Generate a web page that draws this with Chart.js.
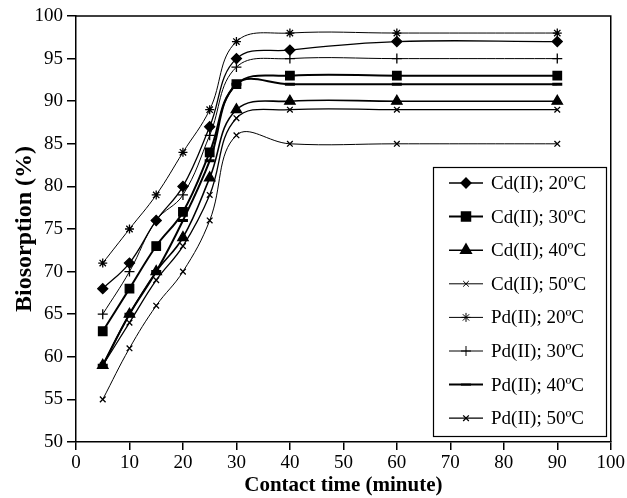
<!DOCTYPE html>
<html>
<head>
<meta charset="utf-8">
<script src="https://cdn.jsdelivr.net/npm/chart.js@4/dist/chart.umd.min.js"></script>
<style>
  html, body { margin: 0; padding: 0; background: #fff; }
  #wrap { width: 627px; height: 498px; position: relative; }
</style>
</head>
<body>
<div id="wrap"><canvas id="c" width="627" height="498"></canvas></div>
<script>
// ---- data ----
const contactTime = [5, 10, 15, 20, 25, 30, 40, 60, 90];
const cd20 = [68, 71, 76, 80, 87, 95, 96, 97, 97];
const cd30 = [63, 68, 73, 77, 84, 92, 93, 93, 93];
const cd40 = [59, 65, 70, 74, 81, 89, 90, 90, 90];
const cd50 = [55, 61, 66, 70, 76, 86, 85, 85, 85];
const pd20 = [71, 75, 79, 84, 89, 97, 98, 98, 98];
const pd30 = [65, 70, 76, 79, 86, 94, 95, 95, 95];
const pd40 = [59, 65, 70, 76, 83, 92, 92, 92, 92];
const pd50 = [59, 64, 69, 73, 79, 88, 89, 89, 89];
const seriesLabels = ['Cd(II); 20ºC', 'Cd(II); 30ºC', 'Cd(II); 40ºC', 'Cd(II); 50ºC',
                      'Pd(II); 20ºC', 'Pd(II); 30ºC', 'Pd(II); 40ºC', 'Pd(II); 50ºC'];
const xTitle = 'Contact time (minute)';
const yTitle = 'Biosorption (%)';

const seriesValues = [cd20, cd30, cd40, cd50, pd20, pd30, pd40, pd50];
const styles = [
  { pointStyle: 'rectRot', r: 5, w: 1.3 },
  { pointStyle: 'rect', r: 6, w: 2 },
  { pointStyle: 'triangle', r: 6, w: 1.6 },
  { pointStyle: 'crossRot', r: 4, w: 1 },
  { pointStyle: 'star', r: 4.5, w: 1 },
  { pointStyle: 'cross', r: 5, w: 1 },
  { pointStyle: 'line', r: 5, w: 2 },
  { pointStyle: 'crossRot', r: 4, w: 1.3 }
];

const datasets = seriesValues.map((vals, i) => ({
  label: seriesLabels[i],
  data: contactTime.map((t, j) => ({ x: t, y: vals[j] })),
  borderColor: '#000',
  backgroundColor: '#000',
  borderWidth: styles[i].w,
  pointStyle: styles[i].pointStyle,
  pointRadius: styles[i].r,
  pointBorderWidth: (styles[i].pointStyle === 'line') ? 3 : 1.3,
  pointBackgroundColor: '#000',
  pointBorderColor: '#000',
  tension: 0.4,
  fill: false
}));

const FONT = '"Liberation Serif", "Times New Roman", serif';

const boxAndLegend = {
  id: 'boxAndLegend',
  afterDraw(chart) {
    const ctx = chart.ctx;
    const a = chart.chartArea;
    ctx.save();
    ctx.strokeStyle = '#000';
    ctx.lineWidth = 1.5;
    ctx.beginPath();
    ctx.moveTo(a.left, a.top);
    ctx.lineTo(a.right, a.top);
    ctx.lineTo(a.right, a.bottom);
    ctx.stroke();

    // legend box
    const lx = 433, ly = 167, lw = 173, lh = 269;
    ctx.fillStyle = '#fff';
    ctx.fillRect(lx, ly, lw, lh);
    ctx.lineWidth = 1.2;
    ctx.strokeRect(lx + 0.5, ly + 0.5, lw, lh);
    ctx.font = '19px ' + FONT;
    ctx.textBaseline = 'middle';
    ctx.textAlign = 'left';
    chart.data.datasets.forEach((ds, i) => {
      const y = 183 + i * 33.6;
      ctx.strokeStyle = '#000';
      ctx.lineWidth = Math.max(1, ds.borderWidth);
      ctx.beginPath();
      ctx.moveTo(449, y);
      ctx.lineTo(483, y);
      ctx.stroke();
      ctx.fillStyle = '#000';
      if (Chart.helpers && Chart.helpers.drawPoint) {
        Chart.helpers.drawPoint(ctx, {
          pointStyle: ds.pointStyle,
          radius: ds.pointRadius,
          rotation: 0,
          borderWidth: ds.pointBorderWidth
        }, 466, y);
      }
      ctx.fillStyle = '#000';
      ctx.fillText(ds.label, 491, y + 1);
    });
    ctx.restore();
  }
};

new Chart(document.getElementById('c'), {
  type: 'line',
  data: { datasets },
  options: {
    responsive: false,
    animation: false,
    devicePixelRatio: 1,
    layout: { padding: { left: 10, right: 16, top: 16, bottom: 0 } },
    plugins: { legend: { display: false }, tooltip: { enabled: false } },
    scales: {
      x: {
        type: 'linear',
        min: 0, max: 100,
        ticks: { stepSize: 10, color: '#000', font: { family: FONT, size: 19 }, padding: 2, maxRotation: 0 },
        grid: { drawOnChartArea: false, drawTicks: true, tickLength: 8, color: '#000', lineWidth: 1.5 },
        border: { color: '#000', width: 1.5 },
        title: { display: true, text: xTitle, color: '#000', font: { family: FONT, size: 21, weight: 'bold' }, padding: { top: 6, bottom: 0 } },
        afterFit(scale) { scale.height = 56; }
      },
      y: {
        min: 50, max: 100,
        ticks: { stepSize: 5, color: '#000', font: { family: FONT, size: 19 }, padding: 4 },
        grid: { drawOnChartArea: false, drawTicks: true, tickLength: 9, color: '#000', lineWidth: 1.5 },
        border: { color: '#000', width: 1.5 },
        title: { display: true, text: yTitle, color: '#000', font: { family: FONT, size: 24, weight: 'bold' }, padding: { top: 0, bottom: 4 } },
        afterFit(scale) { scale.width = 66; }
      }
    }
  },
  plugins: [boxAndLegend]
});
</script>
</body>
</html>
